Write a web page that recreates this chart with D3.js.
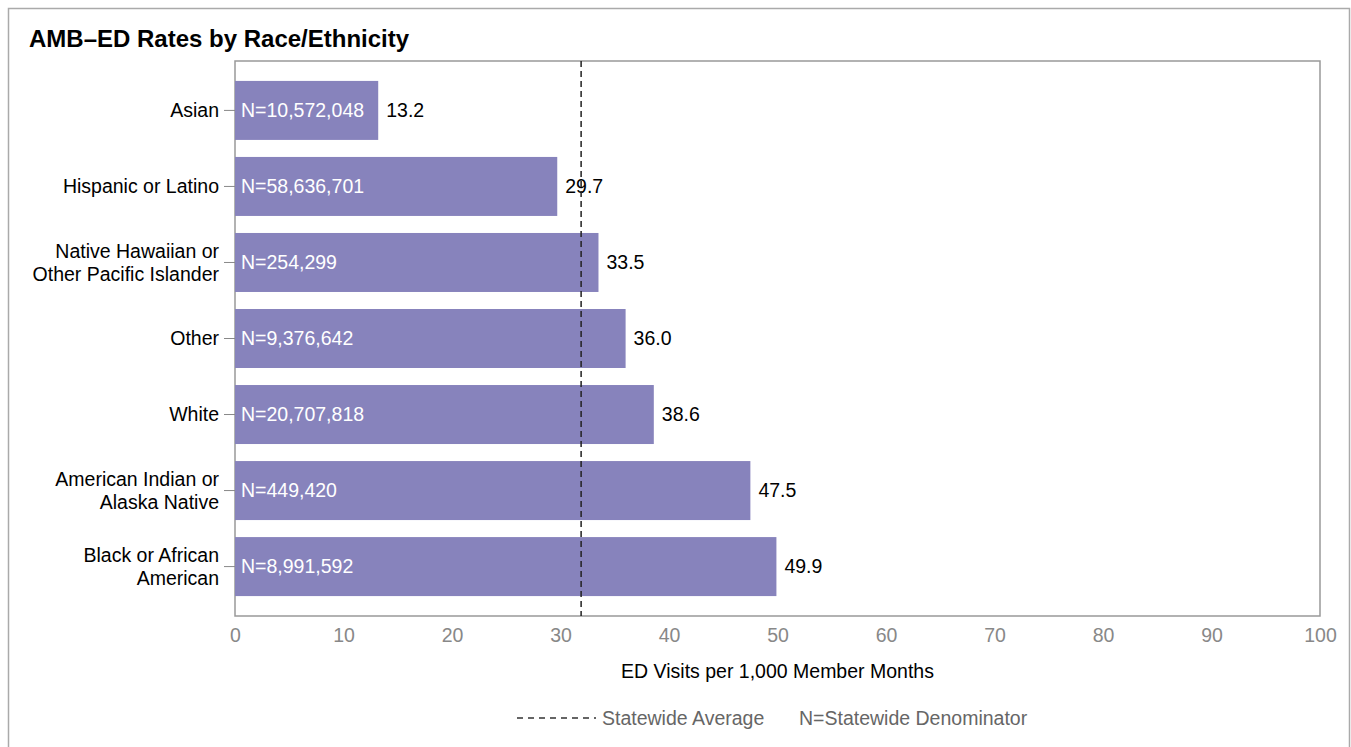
<!DOCTYPE html>
<html>
<head>
<meta charset="utf-8">
<script src="https://cdn.jsdelivr.net/npm/d3@7"></script>
<style>
  html, body { margin: 0; padding: 0; background: #fff; }
  svg { display: block; font-family: "Liberation Sans", Arial, sans-serif; }
</style>
</head>
<body>
<svg id="chart" width="1351" height="747"></svg>
<script>
// Race/ethnicity groups, top to bottom
const categories = [
  ["Asian"],
  ["Hispanic or Latino"],
  ["Native Hawaiian or", "Other Pacific Islander"],
  ["Other"],
  ["White"],
  ["American Indian or", "Alaska Native"],
  ["Black or African", "American"]
];
// ED visits per 1,000 member months
const rates = [13.2, 29.7, 33.5, 36.0, 38.6, 47.5, 49.9];
// Denominators shown inside the bars
const denominators = ["10,572,048", "58,636,701", "254,299", "9,376,642", "20,707,818", "449,420", "8,991,592"];
const statewideAverage = 31.9;
const xTicks = [0, 10, 20, 30, 40, 50, 60, 70, 80, 90, 100];

const svg = d3.select("#chart");
const plot = { left: 235, top: 61, right: 1320, bottom: 616 };
const barColor = "#8783bc";
const fs = 19.5;

// outer frame
svg.append("rect")
  .attr("x", 8.5).attr("y", 8.5).attr("width", 1341).attr("height", 760)
  .attr("fill", "none").attr("stroke", "#aaa").attr("stroke-width", 1.5);

svg.append("text")
  .attr("x", 29).attr("y", 47)
  .attr("font-size", 24).attr("font-weight", "bold").attr("fill", "#000")
  .text("AMB\u2013ED Rates by Race/Ethnicity");

const x = d3.scaleLinear().domain([0, 100]).range([plot.left, plot.right]);
const y = d3.scaleBand()
  .domain(d3.range(categories.length))
  .range([plot.top, plot.bottom])
  .paddingInner(0.224).paddingOuter(0.262);

// plot frame
svg.append("rect")
  .attr("x", plot.left).attr("y", plot.top)
  .attr("width", plot.right - plot.left).attr("height", plot.bottom - plot.top)
  .attr("fill", "none").attr("stroke", "#999").attr("stroke-width", 1.5);

// bars
const rows = svg.append("g").selectAll("g").data(rates).join("g");
rows.append("rect")
  .attr("x", x(0))
  .attr("y", (d, i) => y(i))
  .attr("width", d => x(d) - x(0))
  .attr("height", y.bandwidth())
  .attr("fill", barColor);

rows.append("text")
  .attr("x", x(0) + 6)
  .attr("y", (d, i) => y(i) + y.bandwidth() / 2)
  .attr("dy", "0.35em")
  .attr("font-size", fs).attr("fill", "#fff")
  .text((d, i) => "N=" + denominators[i]);

rows.append("text")
  .attr("x", d => x(d) + 8)
  .attr("y", (d, i) => y(i) + y.bandwidth() / 2)
  .attr("dy", "0.35em")
  .attr("font-size", fs).attr("fill", "#000")
  .text(d => d.toFixed(1));

// category axis
const yAxis = d3.axisLeft(y).tickSize(11).tickFormat("");
const yg = svg.append("g").attr("transform", `translate(${plot.left},0)`).call(yAxis);
yg.select(".domain").remove();
yg.selectAll(".tick line").attr("stroke", "#888");
yg.selectAll(".tick").each(function (i) {
  const lines = categories[i];
  const t = d3.select(this).append("text")
    .attr("x", -16).attr("text-anchor", "end")
    .attr("font-size", fs).attr("fill", "#000");
  const lh = 23;
  lines.forEach((s, k) => {
    t.append("tspan")
      .attr("x", -16)
      .attr("y", (k - (lines.length - 1) / 2) * lh)
      .attr("dy", "0.35em")
      .text(s);
  });
});

// value axis
const xAxis = d3.axisBottom(x).tickValues(xTicks).tickSize(0).tickPadding(12);
const xg = svg.append("g").attr("transform", `translate(0,${plot.bottom})`).call(xAxis);
xg.select(".domain").remove();
xg.selectAll(".tick text")
  .attr("font-size", fs).attr("fill", "#888")
  .attr("font-family", "'Liberation Sans', Arial, sans-serif");

svg.append("text")
  .attr("x", (plot.left + plot.right) / 2).attr("y", 671).attr("dy", "0.35em")
  .attr("text-anchor", "middle").attr("font-size", fs).attr("fill", "#000")
  .text("ED Visits per 1,000 Member Months");

// statewide average line
svg.append("line")
  .attr("x1", x(statewideAverage)).attr("x2", x(statewideAverage))
  .attr("y1", plot.top).attr("y2", plot.bottom)
  .attr("stroke", "#222").attr("stroke-width", 1.5).attr("stroke-dasharray", "6,4");

// legend
svg.append("line")
  .attr("x1", 517).attr("x2", 596).attr("y1", 718).attr("y2", 718)
  .attr("stroke", "#333").attr("stroke-width", 1.5).attr("stroke-dasharray", "6,5");
svg.append("text")
  .attr("x", 602).attr("y", 718).attr("dy", "0.35em")
  .attr("font-size", fs).attr("fill", "#666")
  .text("Statewide Average");
svg.append("text")
  .attr("x", 799).attr("y", 718).attr("dy", "0.35em")
  .attr("font-size", fs).attr("fill", "#666")
  .text("N=Statewide Denominator");
</script>
</body>
</html>
